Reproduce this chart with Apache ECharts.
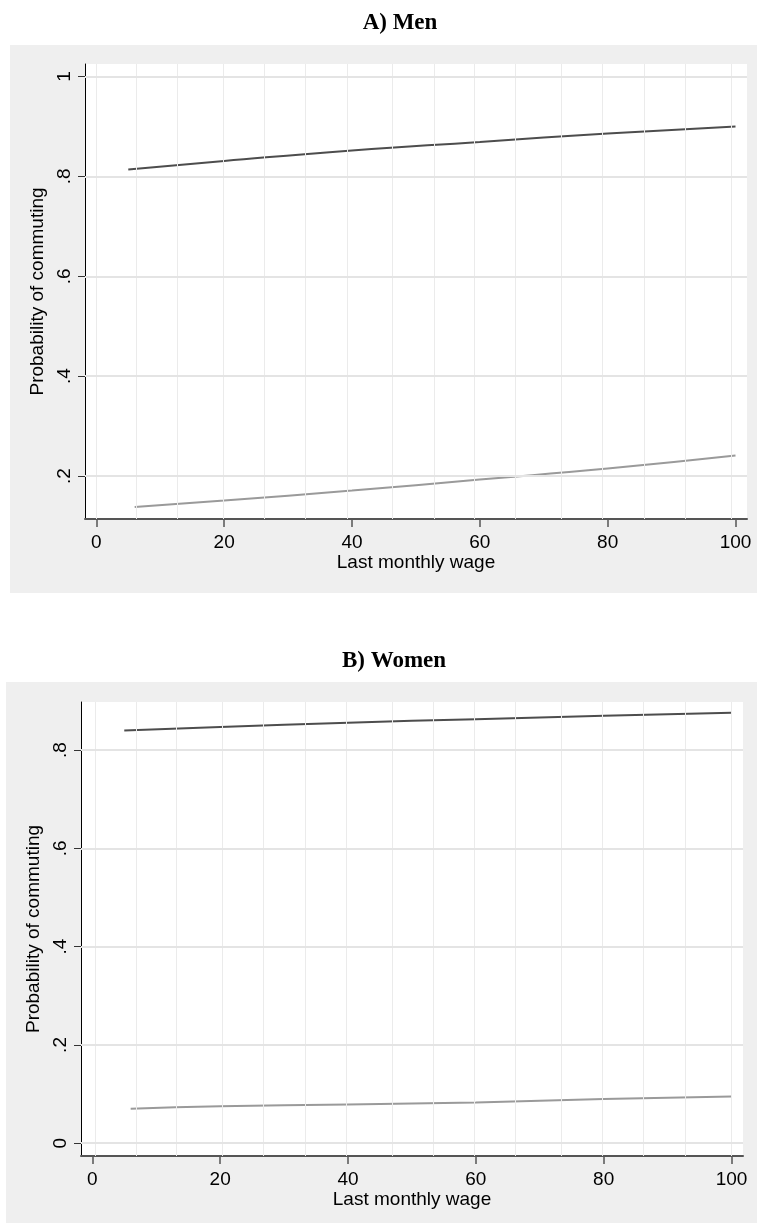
<!DOCTYPE html>
<html lang="en">
<head>
    <meta charset="UTF-8">
    <title>Probability of commuting</title>
    <script src="https://cdn.jsdelivr.net/npm/echarts@6/dist/echarts.min.js"></script>
    <style>
        html, body { margin: 0; padding: 0; background: #fff; }
    </style>
</head>
<body>
    <div id="main" style="width:757px;height:1223px;"></div>

    <script>
    // wage axis values (x) and predicted probabilities (y)
    var wageMenHigh = [5, 20, 40, 60, 80, 100];
    var menHigh = [0.814, 0.831, 0.852, 0.869, 0.886, 0.900];
    var wageMenLow = [6, 20, 40, 60, 80, 100];
    var menLow = [0.138, 0.151, 0.171, 0.193, 0.215, 0.241];

    var wageWomenHigh = [5, 20, 40, 60, 80, 100];
    var womenHigh = [0.840, 0.847, 0.856, 0.863, 0.870, 0.876];
    var wageWomenLow = [6, 20, 40, 60, 80, 100];
    var womenLow = [0.070, 0.075, 0.079, 0.083, 0.090, 0.095];

    // tick labels
    var xTicks = [0, 20, 40, 60, 80, 100];
    var yTicksMen = [0.2, 0.4, 0.6, 0.8, 1];
    var yTicksWomen = [0, 0.2, 0.4, 0.6, 0.8];

    // light vertical rules behind the plots (in wage units)
    var vLinesMen = [0, 6.3, 12.6, 19.8, 26.2, 32.7, 39.2, 46.3, 52.8, 59.1, 65.6, 72.8, 79.2, 85.7, 92.1, 99.3];
    var vLinesWomen = [0.5, 6.9, 13.2, 20.4, 26.8, 33.3, 39.8, 46.9, 53.4, 59.7, 66.2, 73.4, 79.8, 86.2, 92.7, 99.9];

    var axisFont = 'Liberation Sans';

    function pairs(xs, ys) {
        return xs.map(function (x, i) { return [x, ys[i]]; });
    }

    function yFmt(v) {
        if (v === 0) return '0';
        if (v === 1) return '1';
        return String(+v.toFixed(1)).replace(/^0\./, '.');
    }

    function xAxisFor(idx) {
        return {
            type: 'value',
            gridIndex: idx,
            min: -1.77,
            max: 101.8,
            name: 'Last monthly wage',
            nameLocation: 'middle',
            nameGap: 33,
            nameTextStyle: { color: '#000', fontSize: 19, fontFamily: axisFont },
            axisLine: { show: true, onZero: false, lineStyle: { color: '#555', width: 2 } },
            axisTick: { show: true, length: 8, customValues: xTicks, lineStyle: { color: '#555', width: 1.5 } },
            axisLabel: { customValues: xTicks, margin: 14, color: '#000', fontSize: 19, fontFamily: axisFont },
            splitLine: { show: false }
        };
    }

    function yAxisFor(idx, min, max, ticks) {
        return {
            type: 'value',
            gridIndex: idx,
            min: min,
            max: max,
            name: 'Probability of commuting',
            nameLocation: 'middle',
            nameGap: 28,
            nameTextStyle: { color: '#000', fontSize: 19, fontFamily: axisFont },
            axisLine: { show: true, onZero: false, lineStyle: { color: '#000', width: 1 } },
            axisTick: { show: true, length: 7, customValues: ticks, lineStyle: { color: '#333', width: 1 } },
            axisLabel: { customValues: ticks, rotate: 90, margin: 11, color: '#000', fontSize: 19, fontFamily: axisFont, formatter: yFmt },
            splitLine: { show: false }
        };
    }

    function ruleSeries(idx, vals, hvals) {
        var data = vals.map(function (v) {
            return { xAxis: v, lineStyle: { type: 'solid', color: '#ebebeb', width: 1 } };
        });
        hvals.forEach(function (v) {
            data.push({ yAxis: v, lineStyle: { type: 'solid', color: '#e4e4e4', width: 2 } });
        });
        return {
            type: 'line',
            xAxisIndex: idx,
            yAxisIndex: idx,
            data: [],
            z: 1,
            silent: true,
            markLine: {
                silent: true,
                symbol: 'none',
                label: { show: false },
                lineStyle: { type: 'solid' },
                emphasis: { disabled: true },
                animation: false,
                data: data
            }
        };
    }

    function curve(idx, xs, ys, color) {
        return {
            type: 'line',
            xAxisIndex: idx,
            yAxisIndex: idx,
            data: pairs(xs, ys),
            showSymbol: false,
            smooth: true,
            z: 3,
            lineStyle: { color: color, width: 2 }
        };
    }

    var myChart = echarts.init(document.getElementById('main'), null, { renderer: 'canvas' });

    var option = {
        animation: false,
        backgroundColor: '#fff',
        graphic: [
            { type: 'rect', z: -10, shape: { x: 10, y: 45, width: 747, height: 548 }, style: { fill: '#efefef' } },
            { type: 'rect', z: -10, shape: { x: 6, y: 682, width: 751, height: 541 }, style: { fill: '#efefef' } },
            { type: 'text', x: 400, y: 23, style: { text: 'A) Men', textAlign: 'center', textVerticalAlign: 'middle', font: 'bold 23px "Liberation Serif"', fill: '#000' } },
            { type: 'text', x: 394, y: 661, style: { text: 'B) Women', textAlign: 'center', textVerticalAlign: 'middle', font: 'bold 23px "Liberation Serif"', fill: '#000' } }
        ],
        grid: [
            { left: 85, top: 64, width: 662, height: 455, show: true, backgroundColor: '#fff', borderWidth: 0 },
            { left: 81, top: 702, width: 662, height: 454, show: true, backgroundColor: '#fff', borderWidth: 0 }
        ],
        xAxis: [xAxisFor(0), xAxisFor(1)],
        yAxis: [
            yAxisFor(0, 0.114, 1.025, yTicksMen),
            yAxisFor(1, -0.026, 0.898, yTicksWomen)
        ],
        series: [
            ruleSeries(0, vLinesMen, yTicksMen),
            ruleSeries(1, vLinesWomen, yTicksWomen),
            curve(0, wageMenHigh, menHigh, '#4d4d4d'),
            curve(0, wageMenLow, menLow, '#9a9a9a'),
            curve(1, wageWomenHigh, womenHigh, '#4d4d4d'),
            curve(1, wageWomenLow, womenLow, '#9a9a9a')
        ]
    };

    myChart.setOption(option);
    </script>
</body>
</html>
